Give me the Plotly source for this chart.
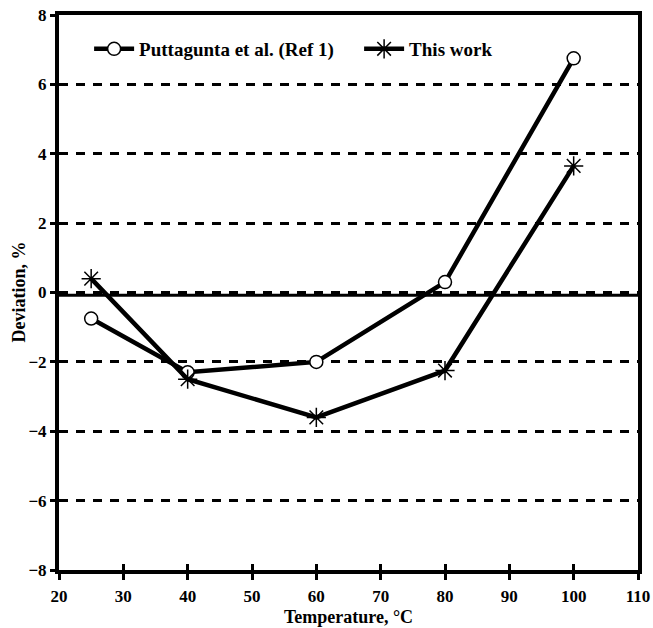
import plotly.graph_objects as go

temps = [25, 40, 60, 80, 100]
puttagunta = [-0.75, -2.3, -2.0, 0.3, 6.75]
this_work = [0.4, -2.5, -3.6, -2.25, 3.65]
baseline = -0.08
x_ticks = [20, 30, 40, 50, 60, 70, 80, 90, 100, 110]
y_ticks = [-8, -6, -4, -2, 0, 2, 4, 6, 8]
y_tick_text = ["\u22128", "\u22126", "\u22124", "\u22122", "0", "2", "4", "6", "8"]

font_fam = "Liberation Serif, Times New Roman, serif"

fig = go.Figure()
fig.add_shape(type="line", xref="x", yref="y", x0=20, x1=110, y0=baseline, y1=baseline,
              line=dict(color="black", width=3), layer="below")
fig.add_trace(go.Scatter(
    x=temps, y=puttagunta, mode="lines+markers", name="<b>Puttagunta et al. (Ref 1)</b>",
    line=dict(color="black", width=4.5),
    marker=dict(symbol="circle", size=13, color="white", line=dict(color="black", width=1.5)),
))
fig.add_trace(go.Scatter(
    x=temps, y=this_work, mode="lines+markers", name="<b>This work</b>",
    line=dict(color="black", width=4.5),
    marker=dict(symbol="asterisk-open", size=16, color="black", line=dict(color="black", width=1.5)),
))
# invisible trace on overlay axis for inside x ticks
fig.add_trace(go.Scatter(x=[20, 110], y=[0, 0], xaxis="x2", mode="markers",
                         marker=dict(opacity=0), showlegend=False, hoverinfo="skip"))

fig.add_annotation(text="<b>Deviation, %</b>", xref="paper", yref="paper",
                   x=-0.0708, y=0.5, textangle=-90, showarrow=False,
                   xanchor="center", yanchor="middle", font=dict(size=18))

fig.update_layout(
    width=653, height=628,
    margin=dict(l=59, r=15, t=15, b=58, pad=0),
    paper_bgcolor="white", plot_bgcolor="white",
    font=dict(family=font_fam, color="black", size=17, weight="bold"),
    showlegend=True,
    legend=dict(x=0.052, y=0.973, xanchor="left", yanchor="top", orientation="h",
                bgcolor="rgba(0,0,0,0)", font=dict(size=19, family=font_fam, weight="bold"),
                itemwidth=40, tracegroupgap=0, entrywidth=215),
    xaxis2=dict(overlaying="x", matches="x", side="bottom", range=[20, 110],
                tickvals=x_ticks, showticklabels=False, ticks="inside", ticklen=6,
                tickwidth=3, tickcolor="black", showgrid=False, zeroline=False,
                showline=False),
)
fig.update_layout(xaxis=dict(
    range=[20, 110], tickvals=x_ticks, ticktext=[f"<b>{t}</b>" for t in x_ticks],
    showline=True, linecolor="black", linewidth=4, mirror=True,
    ticks="outside", ticklen=6, tickwidth=3, tickcolor="black",
    showgrid=False, zeroline=False, automargin=False, ticklabelstandoff=2,
    ticklabeloverflow="allow",
    title=dict(text="<b>Temperature, \u00b0C</b>", font=dict(size=18), standoff=6),
    tickfont=dict(size=17),
))
fig.update_yaxes(
    range=[-8, 8], tickvals=y_ticks, ticktext=[f"<b>{t}</b>" for t in y_tick_text],
    showline=True, linecolor="black", linewidth=4, mirror=True,
    ticks="outside", ticklen=5, tickwidth=3, tickcolor="black",
    showgrid=True, gridcolor="black", gridwidth=2.5, griddash="9px,8px",
    zeroline=False, automargin=False, ticklabeloverflow="allow",
    tickfont=dict(size=17),
)
fig.write_html(
    "out.html",
    config={"displayModeBar": False},
    post_script="document.body.style.margin='0';document.body.style.overflow='hidden';",
)
